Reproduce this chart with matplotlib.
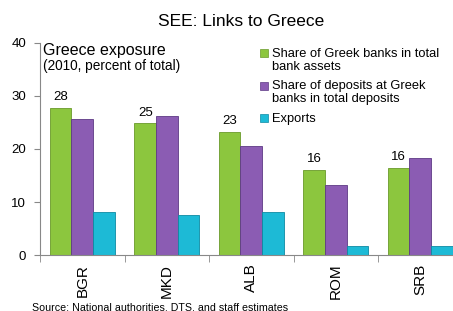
import numpy as np
import matplotlib
matplotlib.use("Agg")
import matplotlib.pyplot as plt
from matplotlib.patches import Rectangle

plt.rcParams['font.family'] = ['Liberation Sans', 'DejaVu Sans']

# data
countries = ["BGR", "MKD", "ALB", "ROM", "SRB"]
bank_assets = [27.8, 24.8, 23.2, 16.1, 16.4]
deposits = [25.6, 26.3, 20.6, 13.2, 18.4]
exports = [8.1, 7.5, 8.1, 1.7, 1.7]
asset_labels = ["28", "25", "23", "16", "16"]

series_names = ["Share of Greek banks in total\nbank assets",
                "Share of deposits at Greek\nbanks in total deposits",
                "Exports"]
face = ["#8cc63e", "#8b5cb3", "#1dbad6"]
edge = ["#6a9a2a", "#5e3a85", "#0e8aa3"]

W, H = 453, 311
fig = plt.figure(figsize=(W / 100, H / 100), dpi=100)
ax = fig.add_axes([40 / W, 55.7 / H, 422.5 / W, 212.6 / H])

x = np.arange(len(countries))
w = 0.255
for i, vals in enumerate([bank_assets, deposits, exports]):
    ax.bar(x + (i - 1) * w, vals, width=w, color=face[i],
           edgecolor=edge[i], linewidth=0.6)

# value labels on the bank-asset bars
for xi, v, lab in zip(x - w, bank_assets, asset_labels):
    ax.text(xi, v + 0.9, lab, ha='center', va='bottom', fontsize=9.5)

ax.set_xlim(-0.5, len(countries) - 0.5)
ax.set_ylim(0, 40)
ax.set_yticks([0, 10, 20, 30, 40])
ax.tick_params(axis='y', labelsize=9.5, length=4, color='#888888', pad=6)
ax.set_xticks(x)
ax.set_xticklabels(countries, rotation=90, fontsize=11)
ax.set_xticks(np.arange(len(countries) + 1) - 0.5, minor=True)
ax.tick_params(axis='x', which='major', length=0, pad=6)
ax.tick_params(axis='x', which='minor', length=5, color='#888888')
for s in ['top', 'right']:
    ax.spines[s].set_visible(False)
for s in ['left', 'bottom']:
    ax.spines[s].set_color('#888888')
    ax.spines[s].set_linewidth(0.8)

fig.text(43 / W, 1 - 50 / H, "Greece exposure", fontsize=11.5,
         va='center', ha='left')
fig.text(43 / W, 1 - 65.7 / H, "(2010, percent of total)", fontsize=9.8,
         va='center', ha='left')

fig.text(241 / W, 1 - 21 / H, "SEE: Links to Greece", fontsize=12.5,
         ha='center', va='center')

# legend drawn by hand so the marker sits on the first line of each entry
base = 57.3
for name, fc, ec in zip(series_names, face, edge):
    fig.patches.append(Rectangle((260 / W, 1 - base / H), 8 / W, 8 / H,
                                 transform=fig.transFigure, facecolor=fc,
                                 edgecolor=ec, linewidth=0.5))
    for line in name.split("\n"):
        fig.text(272 / W, 1 - base / H, line, fontsize=9.3,
                 ha='left', va='baseline')
        base += 12.7
    base += 19.5 - 12.7

fig.text(32 / W, 0.5 / H, "Source: National authorities, DTS, and staff estimates",
         fontsize=7.7, va='baseline', ha='left')

fig.savefig("out.png", dpi=100)
